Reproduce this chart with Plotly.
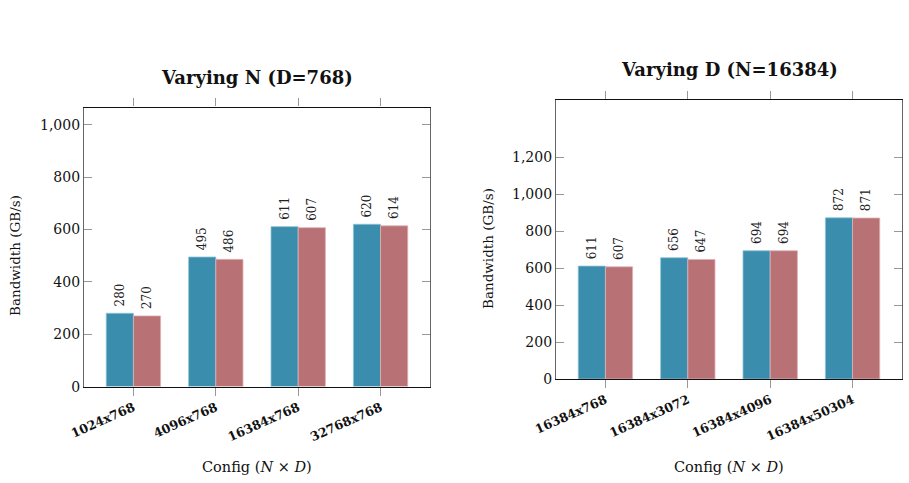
import plotly.graph_objects as go

# Data
cats_n = ["1024x768", "4096x768", "16384x768", "32768x768"]
n_series_a = [280, 495, 611, 620]
n_series_b = [270, 486, 607, 614]

cats_d = ["16384x768", "16384x3072", "16384x4096", "16384x50304"]
d_series_a = [611, 656, 694, 872]
d_series_b = [607, 647, 694, 871]

BLUE = "#3a8dad"
RED = "#b87174"
SERIF = "DejaVu Serif"

fig = go.Figure()


def add_bars(cats, a, b, xa, ya):
    for vals, col, edge in ((a, BLUE, "#8fc3d6"), (b, RED, "#e0b3b5")):
        fig.add_trace(go.Bar(
            x=list(range(len(cats))), y=vals, xaxis=xa, yaxis=ya,
            marker=dict(color=col, line=dict(color=edge, width=0.8)),
            text=["\u00a0" + str(v) for v in vals], textposition="outside",
            textangle=-90, constraintext="none", cliponaxis=False,
            textfont=dict(family=SERIF, size=12, color="#222"),
            showlegend=False, hoverinfo="skip",
        ))


add_bars(cats_n, n_series_a, n_series_b, "x", "y")
add_bars(cats_d, d_series_a, d_series_b, "x2", "y2")

xcommon = dict(range=[-0.6, 3.6], ticks="outside", ticklen=8, tickwidth=1,
               tickcolor="#999", mirror="ticks", showline=True, linecolor="#111",
               linewidth=1.2, showgrid=False, zeroline=False, tickangle=-24,
               tickfont=dict(family=SERIF, size=12.5, color="#111"), tickmode="array",
               automargin=False)
ycommon = dict(ticks="inside", ticklen=8, tickwidth=1, tickcolor="#999",
               mirror="ticks", showline=True, linecolor="#666", linewidth=1.2,
               showgrid=False, zeroline=False, tickformat=",d",
               tickfont=dict(family=SERIF, size=14, color="#111"), tickmode="array",
               automargin=False)

fig.update_layout(
    width=909, height=483, margin=dict(l=0, r=0, t=0, b=0, autoexpand=False),
    paper_bgcolor="white", plot_bgcolor="white",
    barmode="group", bargap=0.34, bargroupgap=0,
    xaxis=dict(xcommon, domain=[84 / 909, 430 / 909], anchor="y",
               tickvals=list(range(len(cats_n))),
               ticktext=["<b>%s</b>" % c for c in cats_n]),
    yaxis=dict(ycommon, domain=[1 - 386.6 / 483, 1 - 107.5 / 483], anchor="x",
               range=[0, 1066], tickvals=[0, 200, 400, 600, 800, 1000]),
    xaxis2=dict(xcommon, domain=[556 / 909, 902 / 909], anchor="y2",
                tickvals=list(range(len(cats_d))),
                ticktext=["<b>%s</b>" % c for c in cats_d]),
    yaxis2=dict(ycommon, domain=[1 - 379 / 483, 1 - 100.3 / 483], anchor="x2",
                range=[0, 1508], tickvals=[0, 200, 400, 600, 800, 1000, 1200]),
)

anns = [
    dict(text="<b>Varying N (D=768)</b>", x=257 / 909, y=1 - 77 / 483, size=18),
    dict(text="<b>Varying D (N=16384)</b>", x=729 / 909, y=1 - 70 / 483, size=18),
    dict(text="Config (<i>N</i> × <i>D</i>)", x=257 / 909, y=1 - 467 / 483, size=14.5),
    dict(text="Config (<i>N</i> × <i>D</i>)", x=729 / 909, y=1 - 467 / 483, size=14.5),
]
for a in anns:
    fig.add_annotation(text=a["text"], x=a["x"], y=a["y"], xref="paper", yref="paper",
                       showarrow=False, xanchor="center", yanchor="middle",
                       font=dict(family=SERIF, size=a["size"], color="#111"))
for xp, yp in ((15, 1 - 256 / 483), (488, 1 - 249 / 483)):
    fig.add_annotation(text="Bandwidth (GB/s)", x=xp / 909, y=yp, xref="paper", yref="paper",
                       showarrow=False, textangle=-90, xanchor="center", yanchor="middle",
                       font=dict(family=SERIF, size=13.5, color="#111"))

fig.write_html("out.html")
